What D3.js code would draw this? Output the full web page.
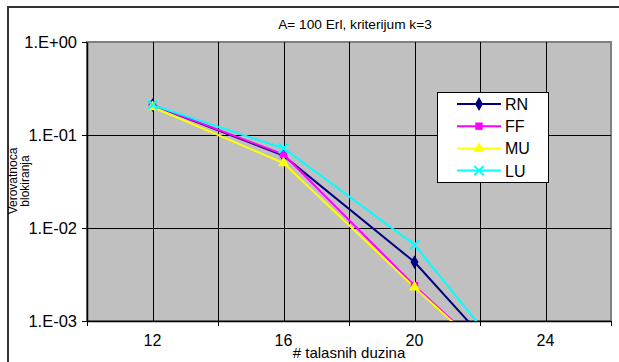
<!DOCTYPE html>
<html>
<head>
<meta charset="utf-8">
<script src="https://cdn.jsdelivr.net/npm/d3@7/dist/d3.min.js"></script>
<style>
  body { margin: 0; background: #fff; }
  svg { display: block; font-family: "Liberation Sans", Arial, sans-serif; }
</style>
</head>
<body>
<div id="chart"></div>
<script>
// data
const wavelengths = [12, 16, 20, 24];
const seriesNames = ['RN', 'FF', 'MU', 'LU'];
const rnValues = [0.21, 0.060, 0.0043, 0.00012];
const ffValues = [0.21, 0.062, 0.0024, 0.00012];
const muValues = [0.20, 0.050, 0.0023, 0.00012];
const luValues = [0.21, 0.072, 0.0066, 0.00012];
const yTicks = [1, 0.1, 0.01, 0.001];
const yTickLabels = ['1.E+00', '1.E-01', '1.E-02', '1.E-03'];
const xLabelTicks = [12, 16, 20, 24];
const xMarkTicks = [10, 14, 18, 22, 26];
const xGrid = [12, 14, 16, 18, 20, 22, 24];

const colors = { RN: '#000080', FF: '#ff00ff', MU: '#ffff00', LU: '#00ffff' };
const markers = { RN: d3.symbolDiamond, FF: d3.symbolSquare, MU: d3.symbolTriangle, LU: d3.symbolX };
const values = { RN: rnValues, FF: ffValues, MU: muValues, LU: luValues };

const W = 619, H = 362;
const margin = { top: 42, right: 8, bottom: 41, left: 87 },
  width = W - margin.left - margin.right,
  height = H - margin.top - margin.bottom;

const svg = d3.select('#chart')
  .append('svg')
  .attr('width', W)
  .attr('height', H);

// outer chart border (runs off the right and bottom)
svg.append('rect')
  .attr('x', 8).attr('y', 7)
  .attr('width', 700).attr('height', 400)
  .attr('fill', 'none')
  .attr('stroke', '#333')
  .attr('stroke-width', 2);

const g = svg.append('g')
  .attr('transform', `translate(${margin.left}, ${margin.top})`);

const x = d3.scaleLinear().domain([10, 26]).range([0, width]);
const y = d3.scaleLog().domain([0.001, 1]).range([height, 0]);

// plot area
g.append('rect')
  .attr('width', width).attr('height', height)
  .attr('fill', '#c0c0c0')
  .attr('stroke', '#808080')
  .attr('stroke-width', 2);

// grid
g.selectAll('.vgrid')
  .data(xGrid)
  .join('line')
  .attr('x1', d => Math.round(x(d)) + 0.5).attr('x2', d => Math.round(x(d)) + 0.5)
  .attr('y1', 0).attr('y2', height)
  .attr('stroke', '#000').attr('stroke-width', 1);

g.selectAll('.hgrid')
  .data([0.1, 0.01])
  .join('line')
  .attr('x1', 0).attr('x2', width)
  .attr('y1', d => Math.round(y(d)) + 0.5).attr('y2', d => Math.round(y(d)) + 0.5)
  .attr('stroke', '#000').attr('stroke-width', 1);

// Y axis
const yAxis = g.append('g')
  .call(d3.axisLeft(y).tickValues(yTicks).tickFormat((d, i) => yTickLabels[i]).tickSize(5).tickSizeOuter(0));
yAxis.select('.domain').attr('stroke', '#000').attr('stroke-width', 1.5);
yAxis.selectAll('text').attr('font-size', 16.5).attr('fill', '#000').attr('font-family', '"Liberation Sans", Arial, sans-serif').attr('dx', -2);

// X axis: tick marks at category boundaries, labels in between
const xAxis = g.append('g')
  .attr('transform', `translate(0, ${height})`)
  .call(d3.axisBottom(x).tickValues(xMarkTicks).tickFormat('').tickSize(5).tickSizeOuter(0));
xAxis.select('.domain').attr('stroke', '#000').attr('stroke-width', 1.5);

g.append('g')
  .selectAll('text')
  .data(xLabelTicks)
  .join('text')
  .attr('x', d => x(d))
  .attr('y', height + 25)
  .attr('text-anchor', 'middle')
  .attr('font-size', 16)
  .text(d => d);

// titles
svg.append('text')
  .attr('x', margin.left + width / 2 + 6)
  .attr('y', 29)
  .attr('text-anchor', 'middle')
  .attr('font-size', 13.7)
  .text('A= 100 Erl, kriterijum k=3');

svg.append('text')
  .attr('x', margin.left + width / 2)
  .attr('y', 358)
  .attr('text-anchor', 'middle')
  .attr('font-size', 15)
  .text('# talasnih duzina');

const yTitle = svg.append('text')
  .attr('transform', 'translate(17, 181) rotate(-90)')
  .attr('text-anchor', 'middle')
  .attr('font-size', 12);
yTitle.append('tspan').attr('x', 0).attr('dy', 0).text('Verovatnoca');
yTitle.append('tspan').attr('x', 0).attr('dy', 12).text('blokiranja');

// series
svg.append('clipPath').attr('id', 'plotclip')
  .append('rect').attr('width', width).attr('height', height);

const line = d3.line()
  .x((d, i) => x(wavelengths[i]))
  .y(d => y(d));

const series = g.append('g').attr('clip-path', 'url(#plotclip)');

seriesNames.forEach(name => {
  series.append('path')
    .datum(values[name])
    .attr('fill', 'none')
    .attr('stroke', colors[name])
    .attr('stroke-width', 2)
    .attr('d', line);
});

seriesNames.forEach(name => {
  const sym = d3.symbol().type(markers[name]).size(name === 'LU' ? 60 : 55);
  series.selectAll('.m-' + name)
    .data(values[name])
    .join('path')
    .attr('transform', (d, i) => `translate(${x(wavelengths[i])}, ${y(d)})`)
    .attr('d', sym)
    .attr('fill', name === 'LU' ? 'none' : colors[name])
    .attr('stroke', name === 'LU' ? colors[name] : 'none')
    .attr('stroke-width', 2);
});

// legend
const legend = svg.append('g').attr('transform', 'translate(437, 92)');
legend.append('rect')
  .attr('x', 0.5).attr('y', 0.5)
  .attr('width', 111).attr('height', 90)
  .attr('fill', '#fff')
  .attr('stroke', '#000')
  .attr('stroke-width', 1);

const items = legend.selectAll('.item')
  .data(seriesNames)
  .join('g')
  .attr('transform', (d, i) => `translate(0, ${12 + i * 22.2})`);

items.append('line')
  .attr('x1', 20).attr('x2', 64)
  .attr('stroke', d => colors[d])
  .attr('stroke-width', 2);

items.append('path')
  .attr('transform', 'translate(42, 0)')
  .attr('d', d => d3.symbol().type(markers[d]).size(d === 'LU' ? 60 : 55)())
  .attr('fill', d => d === 'LU' ? 'none' : colors[d])
  .attr('stroke', d => d === 'LU' ? colors[d] : 'none')
  .attr('stroke-width', 2);

items.append('text')
  .attr('x', 68)
  .attr('y', 6)
  .attr('font-size', 16)
  .text(d => d);
</script>
</body>
</html>
